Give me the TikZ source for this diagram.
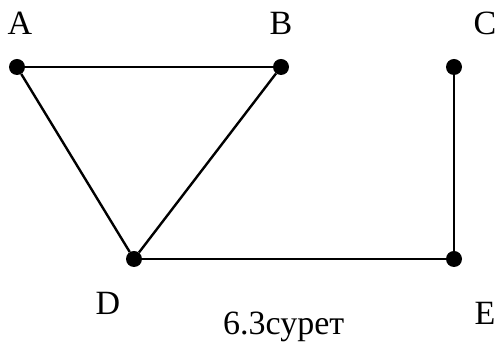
\documentclass[tikz,border=0pt]{standalone}
\usepackage{fontspec}
\setmainfont{Liberation Serif}
\begin{document}
\begin{tikzpicture}[x=1pt,y=1pt,
  vtx/.style={circle,fill=black,inner sep=0pt,minimum size=16pt},
  lbl/.style={inner sep=0pt,anchor=base,font=\fontsize{34}{38}\selectfont},
  edge/.style={line width=2.4pt}]
\useasboundingbox (0,0) rectangle (499,342);
\node[vtx] (A) at (17,275) {};
\node[vtx] (B) at (281,275) {};
\node[vtx] (C) at (454,275) {};
\node[vtx] (D) at (134,83) {};
\node[vtx] (E) at (454,83) {};
\draw[edge] (A) -- (B);
\draw[edge] (A) -- (D);
\draw[edge] (B) -- (D);
\draw[edge] (D) -- (E);
\draw[edge] (C) -- (E);
\node[lbl] (la) at (20,307) {A};
\node[lbl] (lb) at (281,307) {B};
\node[lbl] (lc) at (485,307) {C};
\node[lbl] (ld) at (108,27) {D};
\node[lbl] (le) at (485,17) {E};
\node[lbl,anchor=base west] (cap) at (223,7) {6.3сурет};
\end{tikzpicture}
\end{document}
